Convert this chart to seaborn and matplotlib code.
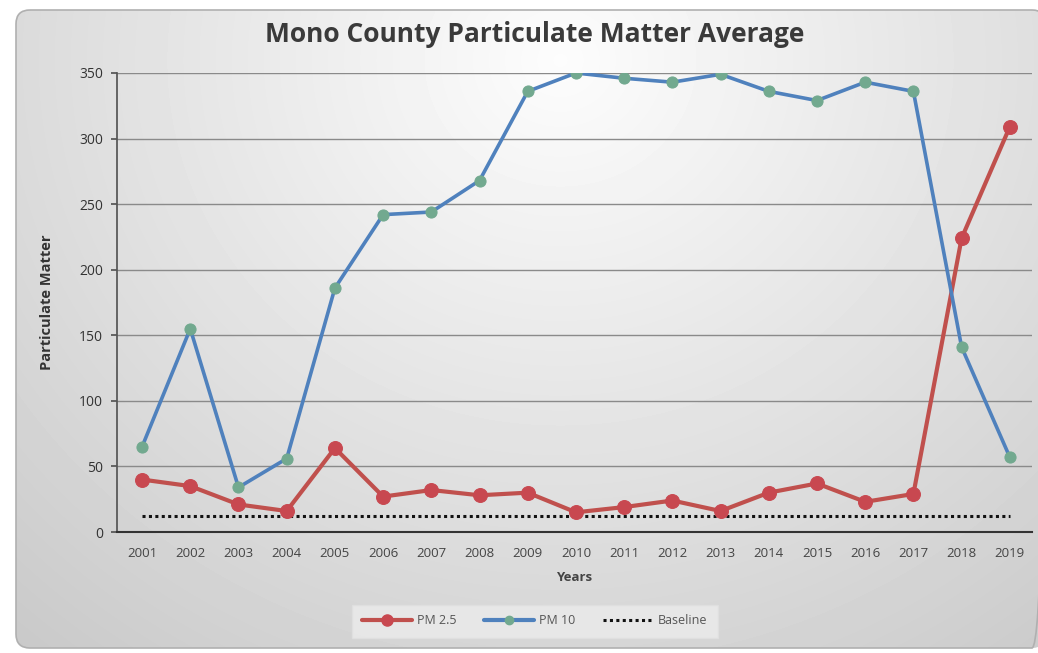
import numpy as np
import pandas as pd
import matplotlib
matplotlib.use("Agg")
import matplotlib.pyplot as plt
import seaborn as sns
from matplotlib.patches import FancyBboxPatch
from matplotlib.lines import Line2D

years = [str(y) for y in range(2001, 2020)]
pm25 = [40, 35, 21, 16, 64, 27, 32, 28, 30, 15, 19, 24, 16, 30, 37, 23, 29, 224, 309]
pm10 = [65, 155, 34, 56, 186, 242, 244, 268, 336, 350, 346, 343, 349, 336, 329, 343, 336, 141, 57]
baseline = [12] * len(years)
yticks = [0, 50, 100, 150, 200, 250, 300, 350]

sns.set_theme(style="white")
plt.rcParams['font.family'] = ['Open Sans', 'DejaVu Sans']

fig = plt.figure(figsize=(10.38, 6.53), dpi=100)
fig.patch.set_facecolor('white')

# background gradient panel
bg = fig.add_axes([0, 0, 1, 1], zorder=0)
bg.set_axis_off()
bg.set_xlim(0, 1038)
bg.set_ylim(653, 0)
yy, xx = np.mgrid[0:653, 0:1038]
d = np.sqrt(((xx - 560) / 700.0) ** 2 + ((yy - 60) / 650.0) ** 2)
grad = np.clip(0.99 - 0.17 * d, 0.78, 0.99)
img = bg.imshow(grad, cmap='gray', vmin=0, vmax=1, extent=(0, 1038, 653, 0), aspect='auto')
panel = FancyBboxPatch((16, 10), 1030, 638, boxstyle="round,pad=0,rounding_size=14",
                       facecolor='none', edgecolor='#b0b0b0', linewidth=1.2)
bg.add_patch(panel)
img.set_clip_path(panel)

ax = fig.add_axes([117 / 1038, 1 - 532 / 653, (1032 - 117) / 1038, (532 - 73) / 653], zorder=1)
ax.patch.set_alpha(0)

df = pd.DataFrame({
    'Years': years * 2,
    'Value': pm25 + pm10,
    'Series': ['PM 2.5'] * len(years) + ['PM 10'] * len(years),
})

sns.lineplot(data=df[df.Series == 'PM 2.5'], x='Years', y='Value', ax=ax, color='#c0504d',
             linewidth=3, marker='o', markersize=10, markerfacecolor='#c84850',
             markeredgecolor='#c84850', sort=False, legend=False)
sns.lineplot(data=df[df.Series == 'PM 10'], x='Years', y='Value', ax=ax, color='#4f81bd',
             linewidth=2.6, marker='o', markersize=8, markerfacecolor='#72a98f',
             markeredgecolor='#72a98f', sort=False, legend=False)
ax.plot(years, baseline, linestyle=(0, (1, 1.1)), color='#111111', linewidth=2.2, zorder=1)

ax.set_xlim(-0.52, len(years) - 1 + 0.46)
ax.set_ylim(0, 350)
ax.set_yticks(yticks)
ax.yaxis.grid(True, color='#8a8a8a', linewidth=1)
ax.xaxis.grid(False)
ax.set_axisbelow(True)
for s in ['top', 'right']:
    ax.spines[s].set_visible(False)
ax.spines['left'].set_color('#555555')
ax.spines['bottom'].set_color('#333333')
ax.spines['bottom'].set_linewidth(1.5)
ax.tick_params(axis='y', left=True, length=4, color='#555555', labelsize=10, labelcolor='#333333', pad=6)
ax.tick_params(axis='x', bottom=False, labelsize=9.5, labelcolor='#444444', pad=5)
ax.set_xlabel('Years', fontsize=9.5, fontweight='bold', color='#444444', labelpad=8)
ax.set_ylabel('Particulate Matter', fontsize=10.5, fontweight='bold', color='#333333', labelpad=18)

fig.text(535 / 1038, 1 - 34 / 653, 'Mono County Particulate Matter Average', ha='center', va='center',
         fontsize=19, fontweight='bold', color='#3a3a3a')

handles = [
    Line2D([0], [0], color='#c0504d', linewidth=3, marker='o', markersize=8,
           markerfacecolor='#c84850', markeredgecolor='#c84850'),
    Line2D([0], [0], color='#4f81bd', linewidth=3, marker='o', markersize=6,
           markerfacecolor='#72a98f', markeredgecolor='#72a98f'),
    Line2D([0], [0], color='#111111', linewidth=2.2, linestyle=(0, (1, 1.1))),
]
leg = fig.legend(handles, ['PM 2.5', 'PM 10', 'Baseline'], loc='center',
                 bbox_to_anchor=(535 / 1038, 1 - 621 / 653), ncol=3, frameon=True,
                 fontsize=9, handlelength=4, columnspacing=2.2, handletextpad=0.4,
                 borderpad=0.8, fancybox=False)
leg.get_frame().set_facecolor('#ececec')
leg.get_frame().set_edgecolor('#e0e0e0')
for t in leg.get_texts():
    t.set_color('#555555')

fig.savefig('out.png', dpi=100)
